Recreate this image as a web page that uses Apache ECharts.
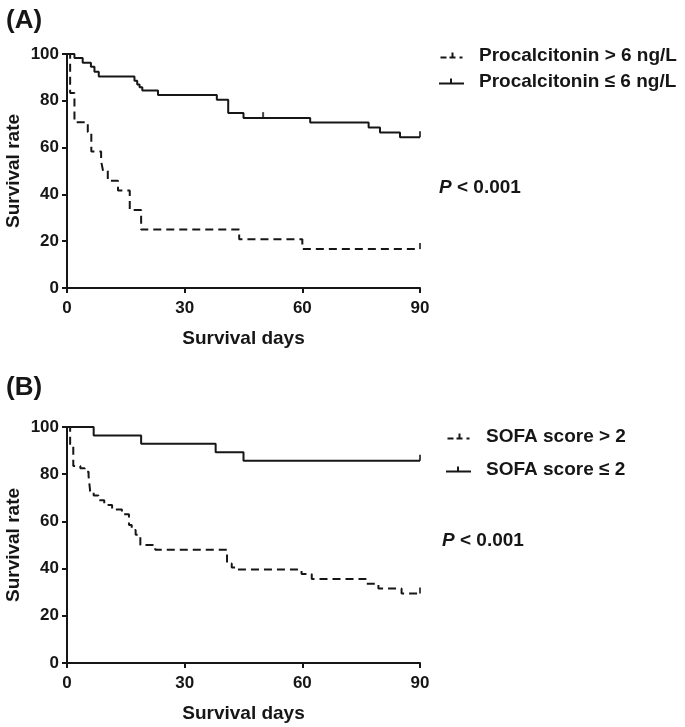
<!DOCTYPE html>
<html>
<head>
<meta charset="utf-8">
<script src="https://cdn.jsdelivr.net/npm/echarts@6/dist/echarts.min.js"></script>
<style>html,body{margin:0;padding:0;background:#fff}#c{width:685px;height:727px}</style>
</head>
<body>
<div id="c"></div>
<script>
// ---- data (days, survival %) ----
const xTicks = [0, 30, 60, 90];
const yTicks = [0, 20, 40, 60, 80, 100];

const pctHighA = [[0,100],[0.8,83.3],[1.9,70.8],[5.3,66.7],[6.2,58.3],[8.7,54.2],[9.2,50],[10.4,45.8],[13,41.7],[16,33.3],[18.9,25],[43.9,20.8],[60,16.7],[90,16.7]];
const pctLowA = [[0,100],[1.9,98.3],[4.0,96.3],[6.1,94.5],[7.0,92.4],[8.1,90.4],[17.2,88.6],[17.9,87],[18.5,85.8],[19.2,84.4],[23.2,82.5],[38.2,80.4],[41.1,74.8],[45.0,72.6],[62.0,70.7],[76.9,68.6],[79.8,66.4],[84.9,64.4],[90,64.4]];
const censorHighA = [[90,16.7]];
const censorLowA = [[50,72.6],[90,64.4]];

const sofaHighB = [[0,100],[0.8,91.8],[1.6,83.5],[3.4,82.5],[4.5,81],[5.5,79.2],[5.9,72.8],[6.8,71],[8,69],[9.5,67],[11.5,65],[14,63],[15.8,58.5],[16.5,56.4],[17.5,54.3],[18.7,50],[22.5,48],[40.8,42.2],[42,40.5],[43,39.6],[59.8,37.7],[62.4,35.6],[76.2,33.6],[79.4,31.6],[85.3,29.5],[90,29.5]];
const sofaLowB = [[0,100],[6.8,96.4],[18.9,92.9],[37.9,89.3],[45,85.7],[90,85.7]];
const censorHighB = [[90,29.5]];
const censorLowB = [[90,85.7]];

const namesA = ['Procalcitonin > 6 ng/L', 'Procalcitonin \u2264 6 ng/L'];
const namesB = ['SOFA score > 2', 'SOFA score \u2264 2'];

// ---- chart ----
const INK = '#161616';
const FONT = '"Liberation Sans", Arial, sans-serif';
const dashedIcon = 'path://M0,4h6v2h-6z M9,4h6v2h-6z M11,0h2v4h-2z M19,4h3v2h-3z';
const solidIcon = 'path://M0,4h25v2h-25z M11,0h2v4h-2z';

function xAxis(gi) {
  return {
    type: 'value', gridIndex: gi, min: 0, max: 90, interval: 30,
    name: 'Survival days', nameLocation: 'middle', nameGap: 41, nameMoveOverlap: false,
    nameTextStyle: { fontFamily: FONT, fontSize: 19, fontWeight: 'bold', color: INK },
    axisLine: { show: true, lineStyle: { color: INK, width: 2 } },
    axisTick: { show: true, length: 5, lineStyle: { color: INK, width: 2 } },
    axisLabel: { fontFamily: FONT, fontSize: 17, fontWeight: 'bold', color: INK, margin: 12,
      formatter: v => xTicks.includes(v) ? String(v) : '' },
    splitLine: { show: false }
  };
}
function yAxis(gi) {
  return {
    type: 'value', gridIndex: gi, min: 0, max: 100, interval: 20,
    name: 'Survival rate', nameLocation: 'middle', nameGap: 44, nameRotate: 90, nameMoveOverlap: false,
    nameTextStyle: { fontFamily: FONT, fontSize: 19, fontWeight: 'bold', color: INK },
    axisLine: { show: true, lineStyle: { color: INK, width: 2 } },
    axisTick: { show: true, length: 5, lineStyle: { color: INK, width: 2 } },
    axisLabel: { fontFamily: FONT, fontSize: 17, fontWeight: 'bold', color: INK, margin: 8,
      formatter: v => yTicks.includes(v) ? String(v) : '' },
    splitLine: { show: false }
  };
}
function curve(name, data, gi, dashed) {
  return {
    name, type: 'line', step: 'end', xAxisIndex: gi, yAxisIndex: gi, data,
    showSymbol: false, symbol: 'none', color: INK,
    lineStyle: { color: INK, width: 2, type: dashed ? [8, 5] : 'solid' },
    animation: false, silent: true, z: 3
  };
}
function censor(name, data, gi) {
  return {
    name, type: 'scatter', xAxisIndex: gi, yAxisIndex: gi, data,
    symbol: 'rect', symbolSize: [2, 6], symbolOffset: [0, -3],
    itemStyle: { color: INK }, animation: false, silent: true, z: 4
  };
}
function legend(names, left, top, gap, width) {
  return {
    orient: 'vertical', left, top, itemGap: gap, itemWidth: width, itemHeight: 6,
    selectedMode: false,
    itemStyle: { borderWidth: 0 },
    textStyle: { fontFamily: FONT, fontSize: 19, fontWeight: 'bold', color: INK, padding: [0, 0, 0, 10] },
    data: [
      { name: names[0], icon: dashedIcon },
      { name: names[1], icon: solidIcon }
    ]
  };
}

const chart = echarts.init(document.getElementById('c'), null, { renderer: 'canvas' });
chart.setOption({
  backgroundColor: '#fff',
  animation: false,
  grid: [
    { left: 67, top: 54, width: 353, height: 234, containLabel: false, outerBoundsMode: 'none' },
    { left: 67, top: 427, width: 353, height: 236, containLabel: false, outerBoundsMode: 'none' }
  ],
  xAxis: [xAxis(0), xAxis(1)],
  yAxis: [yAxis(0), yAxis(1)],
  legend: [
    legend(namesA, 434, 41, 7, 25),
    legend(namesB, 441, 422, 14, 25)
  ],
  graphic: [
    { type: 'text', left: 6, top: 8, style: { text: '(A)', fontFamily: FONT, fontSize: 26, fontWeight: 'bold', fill: INK } },
    { type: 'text', left: 6, top: 375, style: { text: '(B)', fontFamily: FONT, fontSize: 26, fontWeight: 'bold', fill: INK } },
    { type: 'text', left: 439, top: 178, style: { text: '{i|P} < 0.001', rich: { i: { fontStyle: 'italic', fontFamily: FONT, fontSize: 19, fontWeight: 'bold', fill: INK } }, fontFamily: FONT, fontSize: 19, fontWeight: 'bold', fill: INK } },
    { type: 'text', left: 442, top: 531, style: { text: '{i|P} < 0.001', rich: { i: { fontStyle: 'italic', fontFamily: FONT, fontSize: 19, fontWeight: 'bold', fill: INK } }, fontFamily: FONT, fontSize: 19, fontWeight: 'bold', fill: INK } }
  ],
  series: [
    curve(namesA[0], pctHighA, 0, true),
    curve(namesA[1], pctLowA, 0, false),
    censor(namesA[0], censorHighA, 0),
    censor(namesA[1], censorLowA, 0),
    curve(namesB[0], sofaHighB, 1, true),
    curve(namesB[1], sofaLowB, 1, false),
    censor(namesB[0], censorHighB, 1),
    censor(namesB[1], censorLowB, 1)
  ]
});
</script>
</body>
</html>
